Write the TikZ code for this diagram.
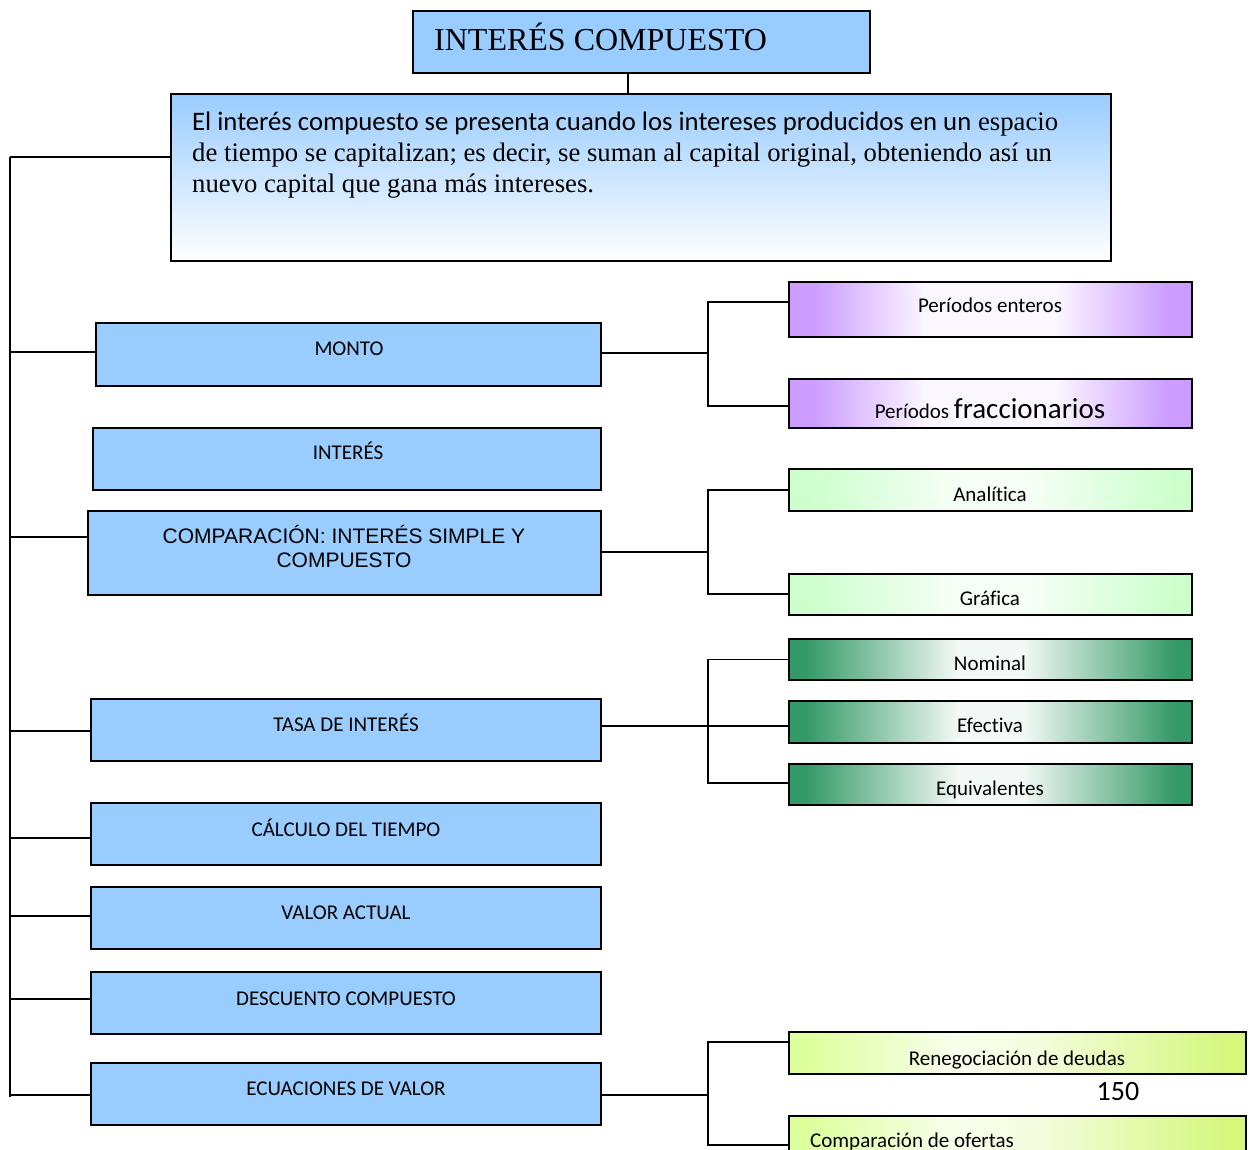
\documentclass[tikz,border=0pt]{standalone}
\usepackage{fontspec}
\setmainfont{Liberation Serif}
\newfontfamily\carlito[Ligatures=NoCommon]{Carlito}
\newfontfamily\arialf{Liberation Sans}

\definecolor{boxblue}{HTML}{99CCFF}
\definecolor{lilac}{HTML}{CC9CFF}
\definecolor{mint}{HTML}{CCFFCC}
\definecolor{pine}{HTML}{339966}
\definecolor{limeA}{HTML}{DDFF9C}
\definecolor{limeB}{HTML}{D4F77C}

% horizontal fades; the node itself spans 25bp..75bp of each shading
\pgfdeclarehorizontalshading{lilacfade}{100bp}{color(0bp)=(lilac); color(25bp)=(lilac); color(28bp)=(lilac); color(42bp)=(lilac!8); color(58bp)=(lilac!8); color(72bp)=(lilac); color(75bp)=(lilac); color(100bp)=(lilac)}
\pgfdeclarehorizontalshading{mintfade}{100bp}{color(0bp)=(mint); color(25bp)=(mint); color(27bp)=(mint); color(45bp)=(mint!20); color(55bp)=(mint!20); color(73bp)=(mint); color(75bp)=(mint); color(100bp)=(mint)}
\pgfdeclarehorizontalshading{pinefade}{100bp}{color(0bp)=(pine); color(25bp)=(pine); color(27bp)=(pine); color(46bp)=(pine!6); color(54bp)=(pine!6); color(73bp)=(pine); color(75bp)=(pine); color(100bp)=(pine)}
\pgfdeclarehorizontalshading{limefade}{100bp}{color(0bp)=(limeA); color(25bp)=(limeA); color(27bp)=(limeA); color(43bp)=(limeA!20); color(52bp)=(limeB!25); color(73bp)=(limeB); color(75bp)=(limeB); color(100bp)=(limeB)}

\tikzset{
  frame/.style={draw=black, line width=1.6pt, rectangle, inner sep=0pt, outer sep=0pt},
  bluebox/.style={frame, fill=boxblue},
  lilacbox/.style={frame, shading=lilacfade},
  mintbox/.style={frame, shading=mintfade},
  pinebox/.style={frame, shading=pinefade},
  limebox/.style={frame, shading=limefade},
  link/.style={draw=black, line width=1.6pt},
  lbl/.style={inner sep=0pt, anchor=base, font=\carlito\fontsize{21}{24}\selectfont},
  desctext/.style={inner sep=0pt, anchor=base west, font=\fontsize{26.7}{31}\selectfont},
}

\begin{document}
\begin{tikzpicture}[x=1pt, y=-1pt]
\path[use as bounding box] (0,0) rectangle (1254,1150);
\clip (0,0) rectangle (1254,1150);

% ---------- header ----------
\node[bluebox, minimum width=457pt, minimum height=62pt] (title) at (641.5,42) {};
\node[inner sep=0pt, anchor=base west, font=\fontsize{32}{36}\selectfont] (titletext) at (434,51) {INTERÉS COMPUESTO};

\node[frame, top color=boxblue, bottom color=white, minimum width=940pt, minimum height=167pt] (desc) at (641,177.5) {};
\node[desctext] (d1) at (192,131) {{\carlito El interés compuesto se presenta cuando los intereses producidos en un} espacio};
\node[desctext] (d2) at (192,162) {de tiempo se capitalizan; es decir, se suman al capital original, obteniendo así un};
\node[desctext] (d3) at (192,193) {nuevo capital que gana más intereses.};

\coordinate (stem) at (628,0);
\draw[link] (title.south -| stem) -- (desc.north -| stem);

% ---------- main column ----------
\node[bluebox, minimum width=505pt, minimum height=63pt] (monto) at (348.5,354.5) {};
\node[lbl] at (349,356) {MONTO};

\node[bluebox, minimum width=508pt, minimum height=62pt] (interes) at (347,459) {};
\node[lbl] at (348,460) {INTERÉS};

\node[bluebox, minimum width=513pt, minimum height=84pt] (comp) at (344.5,553) {};
\node[inner sep=0pt, anchor=base, align=center, font=\arialf\fontsize{21}{24}\selectfont] at (344,567) {COMPARACIÓN: INTERÉS SIMPLE Y\\COMPUESTO};

\node[bluebox, minimum width=510pt, minimum height=62pt] (tasa) at (346,730) {};
\node[lbl] at (346,731) {TASA DE INTERÉS};

\node[bluebox, minimum width=510pt, minimum height=62pt] (calc) at (346,834) {};
\node[lbl] at (346,836) {CÁLCULO DEL TIEMPO};

\node[bluebox, minimum width=510pt, minimum height=62pt] (valor) at (346,918) {};
\node[lbl] at (346,919) {VALOR ACTUAL};

\node[bluebox, minimum width=510pt, minimum height=62pt] (descto) at (346,1003) {};
\node[lbl] at (346,1005) {DESCUENTO COMPUESTO};

\node[bluebox, minimum width=510pt, minimum height=62pt] (ecu) at (346,1094) {};
\node[lbl] at (346,1095) {ECUACIONES DE VALOR};

% ---------- right column ----------
\node[lilacbox, minimum width=403pt, minimum height=55pt] (pent) at (990.5,309.5) {};
\node[lbl] at (990,313) {Períodos enteros};
\node[lilacbox, minimum width=403pt, minimum height=49pt] (pfrac) at (990.5,403.5) {};
\node[lbl] at (990,418) {Períodos {\fontsize{29}{32}\selectfont fraccionarios}};

\node[mintbox, minimum width=403pt, minimum height=42pt] (anal) at (990.5,490) {};
\node[lbl] at (990,501) {Analítica};
\node[mintbox, minimum width=403pt, minimum height=41pt] (graf) at (990.5,594.5) {};
\node[lbl] at (990,605) {Gráfica};

\node[pinebox, minimum width=403pt, minimum height=41pt] (nom) at (990.5,659.5) {};
\node[lbl] at (990,670) {Nominal};
\node[pinebox, minimum width=403pt, minimum height=42pt] (efec) at (990.5,722) {};
\node[lbl] at (990,732) {Efectiva};

% boxes whose label runs into the lower edge: label clipped, frame drawn last
\node[pinebox, draw=none, minimum width=403pt, minimum height=41pt] (equi) at (990.5,784.5) {};
\begin{scope}
  \clip (equi.south west) rectangle (equi.north east);
  \node[lbl] at (990,795) {Equivalentes};
\end{scope}
\draw[line width=1.6pt] (equi.south west) rectangle (equi.north east);

\node[limebox, draw=none, minimum width=457pt, minimum height=42pt] (reneg) at (1017.5,1053) {};
\begin{scope}
  \clip (reneg.south west) rectangle (reneg.north east);
  \node[lbl] at (1017,1065) {Renegociación de deudas};
\end{scope}
\draw[line width=1.6pt] (reneg.south west) rectangle (reneg.north east);
\node[lbl, font=\carlito\fontsize{28}{32}\selectfont] (page) at (1118,1100) {150};

\node[limebox, minimum width=457pt, minimum height=46pt] (ofertas) at (1017.5,1139) {};
\node[lbl, anchor=base west] at (810,1147) {Comparación de ofertas};

% ---------- connectors: left trunk ----------
\coordinate (tk) at (10,157);
\coordinate (tkend) at (10,1097);
\draw[link] (tk) -- (tkend);
\draw[link] (tk) -- (tk -| desc.west);
\foreach \yy/\bx in {352/monto, 537/comp, 731/tasa, 838/calc, 916/valor, 999/descto, 1095/ecu}{
  \coordinate (br) at (10,\yy);
  \draw[link] (br) -- (br -| \bx.west);
}

% ---------- connectors: right forks ----------
\coordinate (fk1) at (708,302);
\coordinate (fk2) at (708,406);
\coordinate (fk0) at (708,353);
\draw[link] (monto.east |- fk0) -- (fk0);
\draw[link] (pent.west |- fk1) -- (fk1) -- (fk2) -- (pfrac.west |- fk2);

\coordinate (fk3) at (708,552);
\coordinate (fk3a) at (708,490);
\coordinate (fk3b) at (708,594);
\draw[link] (comp.east |- fk3) -- (fk3);
\draw[link] (anal.west |- fk3a) -- (fk3a) -- (fk3b) -- (graf.west |- fk3b);

\coordinate (fk4) at (708,726);
\coordinate (fk5) at (708,783);
\draw[link] (tasa.east |- fk4) -- (efec.west |- fk4);
\draw[link] (nom.west) -| (fk5) -- (equi.west |- fk5);

\coordinate (fk6) at (708,1042);
\coordinate (fk7) at (708,1145);
\coordinate (fk8) at (708,1095);
\draw[link] (ecu.east |- fk8) -- (fk8);
\draw[link] (reneg.west |- fk6) -- (fk6) -- (fk7) -- (ofertas.west |- fk7);
\end{tikzpicture}
\end{document}
